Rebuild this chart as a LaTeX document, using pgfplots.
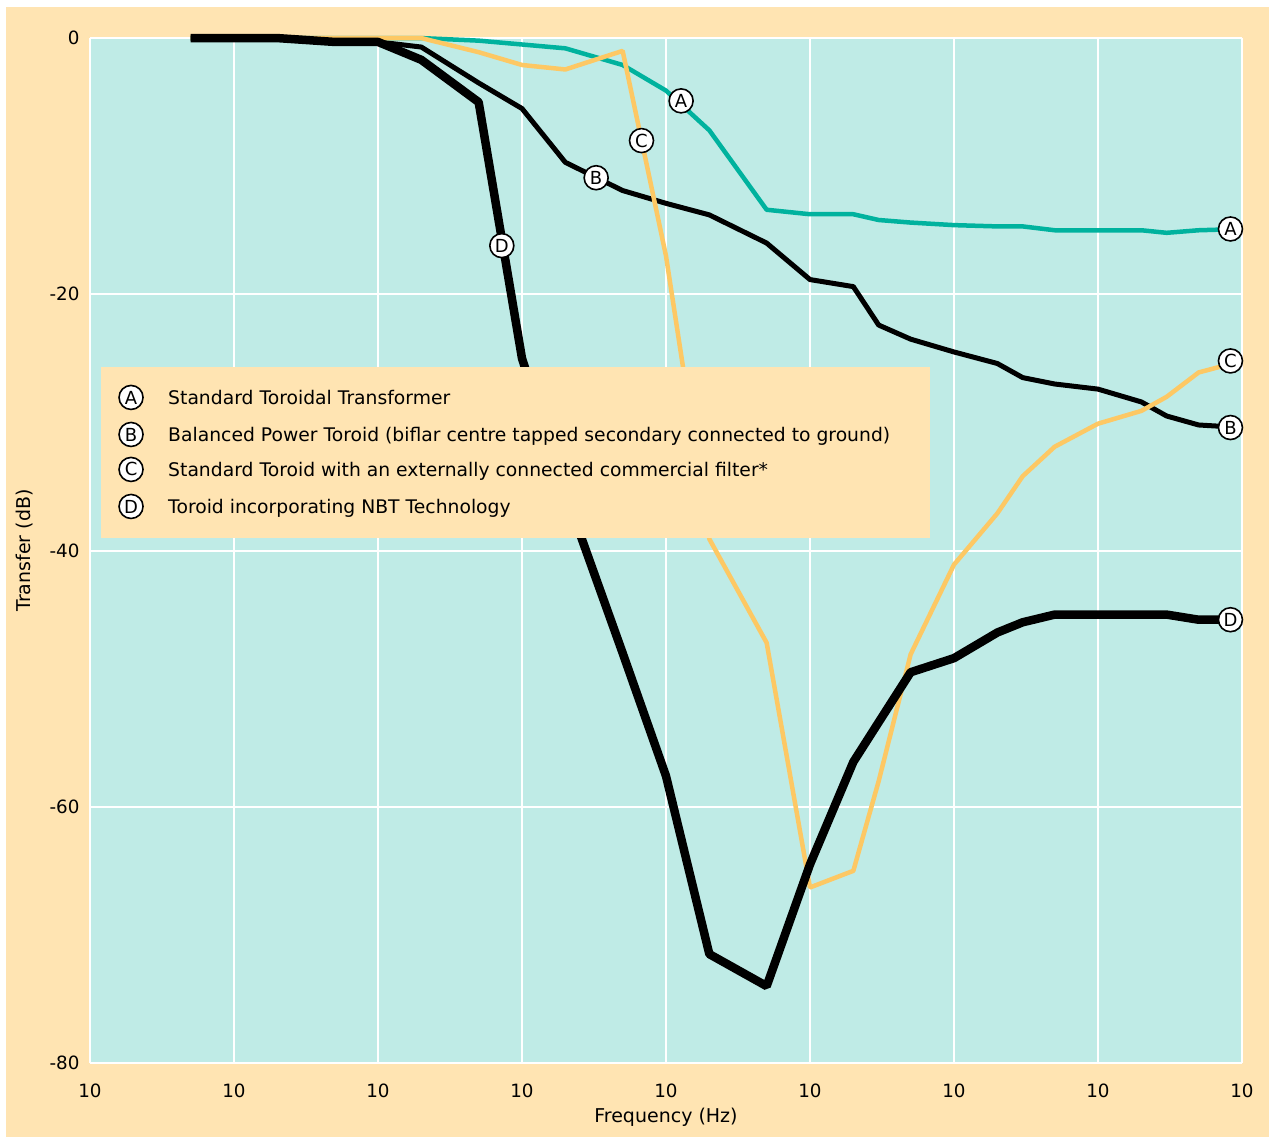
\documentclass[border=0pt]{standalone}
\usepackage{fontspec}
\setmainfont{DejaVu Sans}
\usepackage{pgfplots}
\pgfplotsset{compat=1.18}
\definecolor{bgorange}{RGB}{255,228,178}
\definecolor{plotbg}{RGB}{191,235,230}
\definecolor{tealA}{RGB}{0,178,158}
\definecolor{yelC}{RGB}{253,200,100}
\begin{document}
\begin{tikzpicture}[lbl/.style={circle, draw=black, line width=1.6pt, fill=white, inner sep=0pt, minimum size=24pt, font=\fontsize{18}{18}\selectfont}]
\path[use as bounding box, fill=white] (-90pt,-74pt) rectangle (1179pt,1063pt);
\fill[bgorange] (-84pt,-74pt) rectangle (1179pt,1056pt);
\begin{axis}[at={(0pt,0pt)}, anchor=south west, scale only axis,
  width=1152pt, height=1025pt,
  xmin=0, xmax=8, ymin=-80, ymax=0, clip=false,
  axis line style={draw=none}, tick style={draw=none},
  axis background/.style={fill=plotbg},
  xtick={0,1,2,3,4,5,6,7,8},
  xticklabels={10,10,10,10,10,10,10,10,10},
  ytick={-80,-60,-40,-20,0},
  yticklabels={-80,-60,-40,-20,0},
  xmajorgrids, ymajorgrids,
  grid style={white, line width=2pt},
  ticklabel style={font=\fontsize{18.3}{18.3}\selectfont},
  xticklabel style={yshift=-17pt},
  yticklabel style={xshift=-7pt},
  label style={font=\fontsize{19}{19}\selectfont},
  xlabel={Frequency (Hz)}, ylabel={Transfer (dB)},
  xlabel style={at={(axis description cs:0.5,-0.0527)}, anchor=center},
  ylabel style={at={(axis description cs:-0.0564,0.5)}, anchor=center},
  every axis plot/.append style={line join=bevel}]

% A: Standard Toroidal Transformer
\addplot[tealA, line width=4.5pt] coordinates {
(0.699,0) (1,0) (1.301,0) (1.699,0) (2,0) (2.301,0) (2.699,-0.2) (3,-0.5)
(3.301,-0.8) (3.699,-2.1) (4,-4.1) (4.301,-7.2) (4.699,-13.4) (5,-13.75)
(5.301,-13.75) (5.477,-14.2) (5.699,-14.4) (6,-14.6) (6.301,-14.7) (6.477,-14.7)
(6.699,-15.0) (7,-15.0) (7.301,-15.0) (7.477,-15.2) (7.699,-15.0) (8,-14.9)};

% B: Balanced Power Toroid
\addplot[black, line width=5pt] coordinates {
(0.699,0) (1,0) (1.301,0) (1.699,-0.3) (2,-0.3) (2.301,-0.7) (2.699,-3.5) (3,-5.5)
(3.301,-9.7) (3.699,-11.9) (4,-12.9) (4.301,-13.8) (4.699,-16.0) (5,-18.85)
(5.301,-19.4) (5.477,-22.4) (5.699,-23.5) (6,-24.5) (6.301,-25.4) (6.477,-26.5)
(6.699,-27.0) (7,-27.4) (7.301,-28.4) (7.477,-29.5) (7.699,-30.2) (8,-30.4)};

% C: Standard Toroid with external filter
\addplot[yelC, line width=4.5pt] coordinates {
(0.699,0) (1,0) (1.301,0) (1.699,0) (2,0) (2.301,0) (2.699,-1.1) (3,-2.1)
(3.301,-2.45) (3.699,-1.0) (4,-17.0) (4.301,-39.1) (4.699,-47.2) (5,-66.3)
(5.301,-65.0) (5.477,-58.0) (5.699,-48.1) (6,-41.1) (6.301,-37.1) (6.477,-34.2)
(6.699,-31.9) (7,-30.1) (7.301,-29.1) (7.477,-28.0) (7.699,-26.1) (8,-25.2)};

% D: Toroid incorporating NBT Technology
\addplot[black, line width=8.5pt] coordinates {
(0.699,0) (1,0) (1.301,0) (1.699,-0.3) (2,-0.3) (2.301,-1.7) (2.699,-5.0) (3,-25.0)
(3.301,-35.5) (3.699,-48.0) (4,-57.6) (4.301,-71.5) (4.699,-74.0) (5,-64.5)
(5.301,-56.5) (5.477,-53.4) (5.699,-49.5) (6,-48.4) (6.301,-46.4) (6.477,-45.6)
(6.699,-45.0) (7,-45.0) (7.301,-45.0) (7.477,-45.0) (7.699,-45.4) (8,-45.4)};

% curve labels
\node[lbl] at (axis cs:4.105,-4.9) {A};
\node[lbl] at (axis cs:7.92,-14.9) {A};
\node[lbl] at (axis cs:3.515,-10.9) {B};
\node[lbl] at (axis cs:7.92,-30.4) {B};
\node[lbl] at (axis cs:3.83,-8.0) {C};
\node[lbl] at (axis cs:7.92,-25.2) {C};
\node[lbl] at (axis cs:2.86,-16.2) {D};
\node[lbl] at (axis cs:7.92,-45.4) {D};

% legend box
\fill[bgorange] (axis cs:0.076,-25.7) rectangle (axis cs:5.83,-39.0);
\node[lbl] at (axis cs:0.285,-28.05) {A};
\node[lbl] at (axis cs:0.285,-30.94) {B};
\node[lbl] at (axis cs:0.285,-33.67) {C};
\node[lbl] at (axis cs:0.285,-36.56) {D};
\begin{scope}[every node/.style={anchor=base west, inner sep=0pt, font=\fontsize{18.75}{18.75}\selectfont}]
\node at (axis cs:0.542,-28.59) {Standard Toroidal Transformer};
\node at (axis cs:0.542,-31.48) {Balanced Power Toroid (biflar centre tapped secondary connected to ground)};
\node at (axis cs:0.542,-34.22) {Standard Toroid with an externally connected commercial filter*};
\node at (axis cs:0.542,-37.11) {Toroid incorporating NBT Technology};
\end{scope}
\end{axis}
\end{tikzpicture}
\end{document}
